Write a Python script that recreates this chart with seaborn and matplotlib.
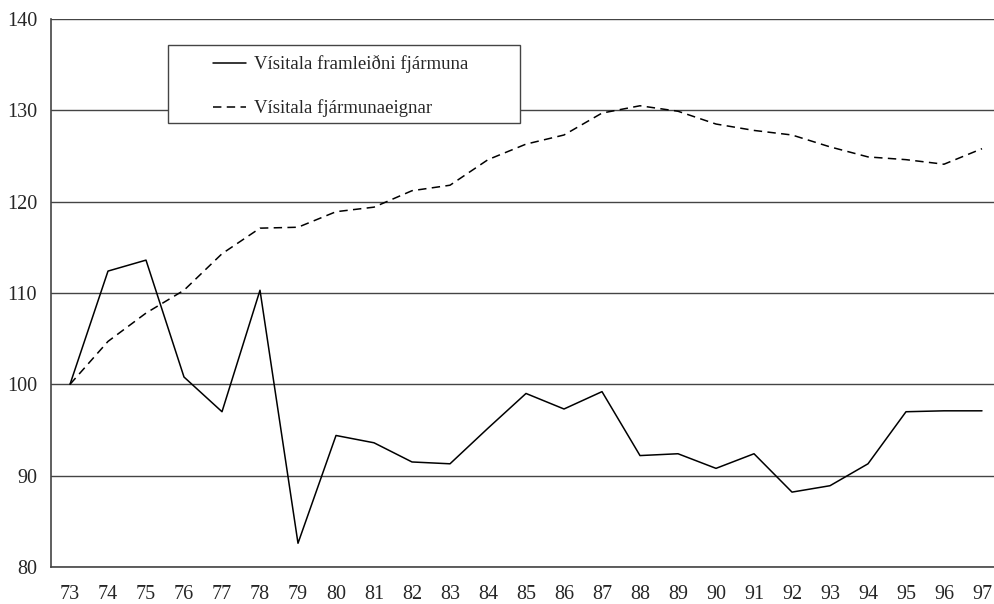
import matplotlib
matplotlib.use("Agg")
import matplotlib.pyplot as plt
from matplotlib.patches import Rectangle
from matplotlib.lines import Line2D
import pandas as pd
import seaborn as sns

# ── data ────────────────────────────────────────────────────────────────── #
years = ["73", "74", "75", "76", "77", "78", "79", "80", "81", "82", "83", "84", "85",
         "86", "87", "88", "89", "90", "91", "92", "93", "94", "95", "96", "97"]
framleidni = [100.0, 112.4, 113.6, 100.8, 97.0, 110.3, 82.6, 94.4, 93.6, 91.5, 91.3,
              95.2, 99.0, 97.3, 99.2, 92.2, 92.4, 90.8, 92.4, 88.2, 88.9, 91.3,
              97.0, 97.1, 97.1]
eign = [100.0, 104.7, 107.8, 110.3, 114.3, 117.1, 117.2, 118.9, 119.4, 121.2, 121.8,
        124.6, 126.3, 127.3, 129.7, 130.5, 129.9, 128.5, 127.8, 127.3, 126.0, 124.9,
        124.6, 124.1, 125.8]
labels = ["Vísitala framleiðni fjármuna", "Vísitala fjármunaeignar"]

df = pd.DataFrame({"ar": list(range(len(years))) * 2,
                   "gildi": framleidni + eign,
                   "rod": [labels[0]] * len(years) + [labels[1]] * len(years)})

sns.set_style("white")
plt.rcParams["font.family"] = ["Liberation Serif", "DejaVu Serif"]

fig = plt.figure(figsize=(9.95, 6.04), dpi=100)
ax = fig.add_axes([51 / 995, 1 - 567 / 604, 950 / 995, 548 / 604])

sns.lineplot(data=df, x="ar", y="gildi", style="rod", style_order=labels,
             dashes={labels[0]: "", labels[1]: (5.5, 3.5)},
             color="black", linewidth=1.1, legend=False, ax=ax, zorder=3)

ax.set_xlim(-0.5, len(years) - 0.5)
ax.set_ylim(80, 140)
ax.set_yticks(range(80, 141, 10))
ax.set_xticks(range(len(years)))
ax.set_xticklabels(years)
ax.set_xticks([i + 0.5 for i in range(len(years) - 1)], minor=True)
ax.set_xlabel(""); ax.set_ylabel("")
ax.yaxis.grid(True, color="#444444", linewidth=1.0)
ax.set_axisbelow(True)

for s in ["top", "right"]:
    ax.spines[s].set_visible(False)
for s in ["left", "bottom"]:
    ax.spines[s].set_color("#444444")
    ax.spines[s].set_linewidth(1.2)

ax.tick_params(axis="x", which="major", length=0, pad=13, labelsize=14.5)
ax.tick_params(axis="x", which="minor", direction="in", length=5, width=1, color="#444444")
ax.tick_params(axis="y", length=0, pad=10, labelsize=14.5)

# legend box
ax.add_patch(Rectangle((0.123, 0.810), 0.371, 0.1426, transform=ax.transAxes,
                       facecolor="white", edgecolor="#444444", linewidth=1.0, zorder=4))
handles = [Line2D([], [], color="black", lw=1.1),
           Line2D([], [], color="black", lw=1.1, linestyle=(0, (5.5, 3.5)))]
ax.legend(handles, labels, loc="upper left", bbox_to_anchor=(0.153, 0.965),
          frameon=False, fontsize=13.5, handlelength=1.75, handletextpad=0.45,
          labelspacing=1.4).set_zorder(5)

fig.savefig("out.png", dpi=100)
